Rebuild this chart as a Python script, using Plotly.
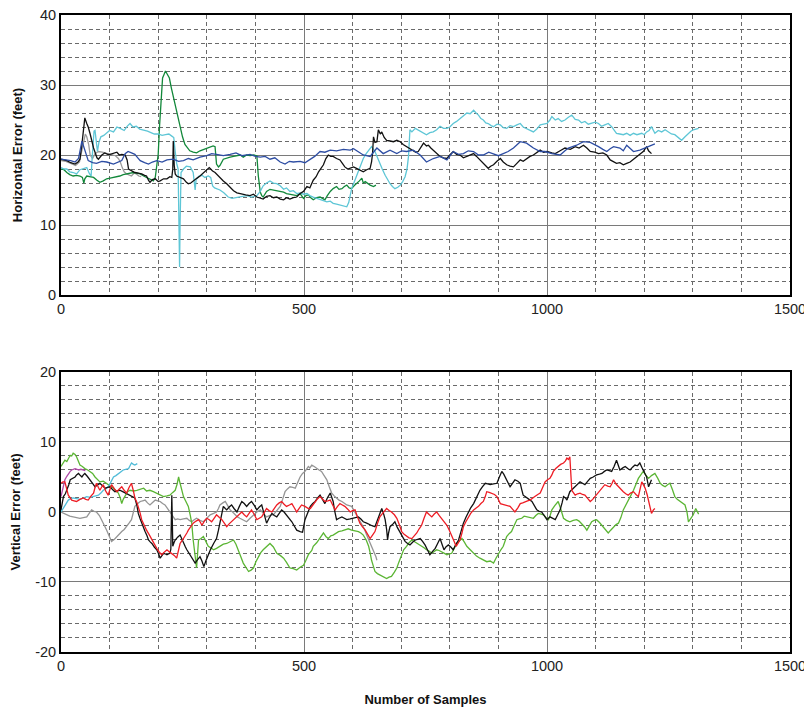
import plotly.graph_objects as go

# ---------------- Top panel: Horizontal Error (feet) ----------------
h_blue_x = [0,12,20,29,36,43,50,56,65,73,84,94,108,118,125,132,138,145,152,158,163,172,180,188,197,208,218,231,242,252,262,272,286,300,310,320,334,348,360,372,389,400,410,420,430,440,451,461,470,478,492,502,512,522,533,543,554,567,581,595,602,612,622,636,643,650,663,677,691,701,711,725,739,746,752,766,780,794,807,818,828,838,849,859,869,880,890,900,910,920,931,945,958,965,972,986,996,1010,1027,1037,1044,1061,1075,1089,1098,1106,1115,1123,1130,1137,1150,1157,1164,1171,1178,1191,1198,1205,1212,1222]
h_blue_y = [19.4,19.3,19.2,19.0,19.5,22.0,20.5,19.2,18.9,18.8,19.1,19.0,18.7,19.0,19.2,20.2,20.5,20.3,20.1,19.6,19.2,18.9,18.7,19.0,19.2,19.0,19.3,19.4,19.1,19.2,19.5,19.3,19.7,19.9,20.2,20.1,19.9,20.1,20.3,19.9,20.1,19.8,19.7,19.8,19.4,19.6,19.0,18.7,19.1,19.0,19.1,18.9,19.3,19.8,20.5,20.4,20.7,20.6,20.8,20.7,20.9,20.5,20.0,19.8,20.4,21.0,20.2,20.7,20.2,20.6,20.5,20.7,20.0,19.4,19.0,19.5,19.8,19.3,20.5,20.1,20.2,20.6,20.5,20.0,20.0,20.4,20.2,19.9,20.2,20.5,21.0,21.9,21.7,21.3,21.0,20.5,20.5,20.2,20.0,20.6,21.0,21.4,21.9,21.8,21.5,21.2,20.8,20.5,20.9,21.2,21.0,20.6,21.4,21.0,20.5,20.7,20.9,21.2,21.3,21.6]

h_black_x = [0,12,20,29,35,39,43,46,49,53,56,60,63,67,70,74,77,84,90,96,101,108,115,120,125,132,136,139,145,152,159,166,172,176,180,183,188,194,200,204,211,218,224,228,230,231,233,235,238,245,252,258,262,267,272,280,286,293,300,305,308,312,317,322,327,334,341,348,355,362,372,380,389,396,403,410,416,423,430,437,444,451,458,464,471,478,485,492,499,506,512,519,525,530,535,540,545,550,555,560,567,574,579,584,590,595,602,608,615,622,629,636,639,641,643,646,650,653,657,660,665,670,677,684,691,698,704,711,718,725,730,735,741,746,752,756,761,766,773,780,787,794,800,807,814,821,828,835,842,849,855,862,869,875,879,884,890,897,904,910,917,924,931,938,945,951,958,965,972,979,986,993,1000,1010,1017,1027,1037,1048,1058,1066,1075,1082,1089,1098,1106,1115,1123,1130,1137,1143,1150,1157,1164,1171,1178,1185,1192,1198,1205,1209,1215]
h_black_y = [19.4,19.2,18.9,18.7,19.0,19.4,21.5,23.5,25.3,24.5,24.0,23.0,22.0,21.0,20.4,19.6,19.4,20.0,20.3,20.1,20.1,20.3,20.4,20.0,20.1,20.0,19.3,18.0,17.8,17.5,17.4,17.3,17.1,17.0,16.4,16.1,16.5,16.6,16.2,16.3,16.6,16.6,16.9,16.8,18.0,22.0,18.5,17.3,17.0,16.8,16.6,16.1,15.9,16.0,16.3,16.7,17.0,17.4,17.8,18.2,18.0,17.7,17.5,17.1,16.8,16.3,15.9,15.4,14.9,14.6,14.4,14.3,14.2,14.4,14.0,13.8,13.7,14.1,14.2,13.9,14.0,13.7,13.6,13.9,13.7,13.9,14.0,14.5,14.8,15.5,15.3,16.4,16.9,17.6,18.2,18.6,19.5,20.0,19.8,19.8,19.5,19.3,18.8,18.3,18.0,18.1,18.3,18.1,17.8,17.6,17.9,18.1,19.0,20.2,22.6,21.8,21.9,23.6,23.0,23.3,22.5,22.1,22.0,21.9,22.1,21.9,21.5,21.2,21.0,20.7,20.4,20.5,21.2,21.7,21.3,21.4,21.0,20.7,20.2,19.8,19.6,19.5,20.0,20.5,20.1,20.0,19.6,19.8,20.1,20.2,19.8,19.3,18.8,18.3,18.1,18.4,18.6,19.1,19.5,19.0,18.6,18.4,18.3,18.8,19.3,19.1,19.5,19.8,20.0,20.4,20.7,20.4,20.5,20.3,20.2,20.6,21.0,20.8,21.2,21.0,21.4,21.0,20.5,20.4,20.2,20.3,20.0,19.3,19.0,18.8,18.9,18.6,18.8,19.0,19.4,19.8,20.1,20.5,21.2,20.6,20.2]

h_cyan_x = [0,6,12,18,25,32,39,46,53,58,62,64,66,68,70,73,75,78,82,88,94,100,108,115,122,130,136,142,148,155,162,170,178,185,192,200,208,215,222,228,232,235,238,241,243,244,245,247,252,258,266,272,276,278,284,290,296,303,308,312,316,322,327,335,344,352,361,370,382,392,403,410,416,423,430,437,444,451,458,464,471,478,485,492,499,506,512,519,526,533,540,547,554,560,567,574,581,588,592,595,598,602,607,612,617,622,628,633,639,646,651,656,661,667,672,677,682,687,693,698,703,708,712,715,718,722,729,736,742,747,752,759,766,773,780,787,794,800,807,814,821,828,835,842,849,854,859,864,869,874,879,885,890,897,904,910,917,924,931,938,945,951,958,965,972,979,986,993,1000,1006,1010,1017,1023,1030,1037,1044,1051,1058,1065,1071,1078,1085,1092,1099,1106,1112,1119,1126,1133,1138,1143,1150,1157,1164,1171,1178,1185,1195,1200,1205,1210,1215,1219,1222,1229,1236,1243,1250,1256,1263,1270,1277,1284,1291,1296,1301,1306,1312]
h_cyan_y = [18.2,18.0,18.0,17.6,17.5,17.3,17.9,18.0,18.2,17.4,17.0,19.5,22.0,23.4,23.5,21.5,20.5,21.8,22.6,22.8,23.2,23.5,23.3,24.0,23.8,23.5,24.1,24.5,24.0,24.1,23.7,23.6,23.4,23.2,23.0,23.0,22.8,22.9,23.0,22.7,22.5,20.5,18.8,18.0,10.0,4.0,10.0,17.5,18.0,18.4,18.3,17.5,15.0,16.5,17.0,17.1,16.8,17.0,16.8,15.6,15.3,15.1,15.0,14.6,14.0,13.8,13.9,14.1,14.2,14.0,14.2,14.8,15.6,16.0,16.3,16.0,15.9,15.6,15.1,15.3,14.8,14.9,14.5,14.6,14.4,14.5,14.2,14.0,13.8,13.6,13.5,13.3,13.4,13.1,13.0,12.9,12.8,12.6,13.2,14.5,15.2,15.9,16.8,17.6,18.6,19.5,20.2,20.7,21.2,20.5,19.6,18.8,18.0,17.1,16.4,15.9,15.5,15.2,15.4,15.7,16.2,16.9,18.0,19.8,23.6,23.3,23.8,23.5,23.3,23.0,22.9,23.2,23.3,23.6,24.1,23.8,23.8,24.0,24.5,24.8,25.2,25.6,26.0,25.9,26.4,26.0,25.7,25.2,25.0,24.6,24.5,24.2,24.05,24.4,24.3,23.9,23.8,24.2,24.05,24.3,24.5,24.0,23.8,23.6,23.3,23.7,24.3,24.4,24.5,25.0,25.5,25.0,25.2,24.8,25.0,25.4,25.7,25.1,25.0,24.6,24.8,24.4,24.5,24.7,24.5,24.1,24.3,24.5,24.05,23.5,23.1,23.0,22.9,23.1,22.8,23.1,22.9,23.1,22.9,23.3,23.5,24.05,23.6,23.1,23.5,23.3,23.6,23.3,23.0,22.9,22.5,22.1,22.6,23.1,23.4,23.6,23.7,23.8]

h_green_x = [0,6,12,18,25,32,39,44,47,49,53,60,67,74,80,87,94,101,108,115,121,128,135,142,149,156,163,170,176,183,190,194,197,200,203,206,209,212,215,219,223,227,231,236,241,245,250,255,260,265,272,279,286,293,300,307,313,317,320,324,327,334,341,348,355,362,369,375,382,389,396,403,406,410,413,416,423,430,437,444,451,458,464,471,478,485,492,499,504,509,514,519,526,533,538,543,548,554,560,567,572,578,583,588,593,598,603,608,614,619,622,626,631,636,643,648]
h_green_y = [18.0,17.9,17.5,17.2,17.0,17.1,17.0,16.8,16.0,16.6,17.0,16.9,16.8,16.4,16.1,16.3,16.6,16.7,16.8,16.9,17.0,17.2,17.3,17.4,17.5,17.4,17.3,17.0,16.8,16.5,16.3,16.8,18.2,20.1,24.4,28.5,31.0,31.5,32.0,31.5,31.0,29.6,28.3,26.8,25.2,23.8,22.6,21.5,21.0,20.6,20.4,20.3,20.6,20.8,21.0,21.1,21.3,21.2,18.7,18.3,18.5,19.4,19.6,19.7,19.8,19.9,20.0,19.7,20.0,19.9,20.0,19.9,17.0,14.7,14.2,14.0,14.8,15.1,15.0,14.9,14.7,14.7,14.5,14.4,14.3,14.2,14.5,13.8,14.2,14.3,13.9,13.6,13.9,14.0,13.8,13.6,14.2,14.8,15.2,15.5,15.1,15.2,15.5,15.7,15.3,15.2,15.6,15.9,16.3,16.7,16.0,16.2,15.9,15.7,15.5,15.7]

h_gray_x = [0,10,20,30,38,43,47,50,53,57,60,65,70,77,85,95,105,112,118,122,126,130,135,140,145,150,155,160,165]
h_gray_y = [19.2,19.1,18.8,18.5,19.0,20.5,22.0,23.0,22.6,21.5,20.0,19.5,20.2,20.5,20.4,20.2,20.0,19.9,19.5,19.0,18.2,17.6,17.3,17.1,17.0,17.4,17.3,17.0,16.9]

# ---------------- Bottom panel: Vertical Error (feet) ----------------
v_green_x = [0,4,8,12,16,19,22,25,29,32,36,39,44,49,55,60,65,70,75,80,87,94,101,108,113,118,122,125,128,132,137,142,149,156,163,170,176,183,190,197,204,211,218,224,230,235,239,242,245,249,252,257,262,266,269,272,276,279,281,283,288,293,298,303,308,314,320,327,334,341,348,355,360,365,370,375,380,386,391,396,401,406,411,416,423,430,437,444,451,458,464,471,478,485,492,499,504,509,516,519,526,533,537,540,545,550,555,560,566,571,578,584,591,598,605,612,617,622,628,633,636,639,643,646,651,656,663,670,675,680,686,691,695,698,702,705,711,716,722,727,732,737,742,747,752,758,763,768,773,778,783,789,794,799,804,809,814,820,825,830,835,842,849,855,862,869,876,883,890,895,900,905,910,914,917,922,927,932,938,943,948,953,958,965,972,977,982,988,993,998,1003,1006,1010,1016,1023,1028,1034,1040,1047,1054,1061,1066,1071,1077,1082,1087,1092,1097,1102,1108,1113,1120,1126,1131,1137,1142,1147,1152,1157,1162,1167,1172,1178,1183,1188,1193,1198,1203,1209,1215,1222,1228,1233,1238,1243,1248,1253,1258,1263,1268,1274,1279,1284,1288,1291,1296,1301,1306,1310,1312]
v_green_y = [6.5,7.0,7.4,7.2,7.8,8.1,8.0,8.4,8.2,7.9,7.2,6.7,6.5,6.2,6.0,5.8,5.5,5.0,4.7,4.3,4.4,4.1,3.8,3.4,3.0,2.7,2.0,1.2,1.8,2.4,2.9,3.1,3.0,3.1,3.3,3.4,3.0,3.1,2.9,2.7,2.4,2.2,2.3,2.4,2.8,3.1,4.0,5.0,4.1,3.0,2.2,1.5,0.8,-0.5,-1.6,-4.0,-6.0,-8.0,-6.0,-4.0,-3.8,-3.5,-4.2,-4.9,-5.1,-5.4,-5.2,-4.9,-4.6,-4.5,-4.2,-4.0,-4.6,-5.4,-6.4,-7.3,-7.9,-8.5,-8.3,-8.0,-7.1,-6.4,-5.8,-5.4,-5.0,-4.5,-5.0,-5.9,-6.2,-6.6,-7.2,-8.0,-8.1,-8.3,-7.9,-7.6,-6.9,-6.1,-5.5,-4.9,-4.4,-3.8,-3.3,-3.0,-3.5,-3.8,-3.4,-3.3,-3.0,-2.8,-2.7,-2.6,-2.4,-2.6,-2.7,-2.8,-3.0,-3.3,-4.0,-4.9,-5.8,-6.9,-7.8,-8.5,-8.8,-9.0,-9.3,-9.5,-9.3,-9.2,-8.6,-8.0,-7.2,-6.6,-6.0,-5.4,-4.9,-4.4,-4.0,-4.2,-4.5,-4.7,-4.9,-5.1,-5.4,-5.6,-5.9,-5.6,-5.4,-5.5,-5.7,-5.9,-6.1,-6.0,-5.9,-5.2,-4.5,-4.1,-3.8,-4.3,-4.9,-5.4,-5.9,-6.3,-6.6,-6.9,-7.1,-7.0,-7.3,-6.6,-5.9,-5.4,-4.9,-4.2,-3.5,-3.1,-2.8,-2.0,-1.1,-1.0,-0.9,-0.6,-0.7,-0.8,-0.9,-0.5,-0.2,-0.3,-0.4,-0.8,-1.1,-0.6,0.3,0.9,1.5,0.5,-0.9,-1.2,-1.4,-1.2,-1.1,-1.3,-1.6,-2.1,-2.6,-2.0,-1.4,-1.2,-1.1,-1.5,-1.9,-2.5,-3.0,-2.6,-2.1,-1.8,-1.6,-0.8,0.3,0.9,1.5,2.3,3.1,4.0,4.8,5.3,5.8,5.3,4.8,5.2,5.5,4.8,4.1,3.8,3.6,3.9,4.1,3.2,2.2,1.8,1.5,1.3,1.0,0.0,-1.4,-0.9,-0.4,0.5,0.0,-0.3]

v_black_x = [0,3,5,9,12,16,19,24,29,32,36,40,43,46,49,54,60,65,70,75,80,86,91,96,101,106,111,116,121,127,132,137,142,147,152,156,159,163,166,170,173,177,180,184,187,192,197,201,204,208,211,215,218,221,224,226,227,228,229,230,233,235,240,245,249,252,256,259,264,269,273,276,281,286,290,294,298,303,308,314,317,320,324,327,331,334,338,341,346,351,356,362,367,372,377,382,387,392,398,403,408,413,418,423,428,434,439,444,449,454,459,464,469,475,480,485,492,497,502,508,513,518,523,528,533,538,543,548,554,557,560,563,567,572,578,583,588,595,602,607,612,617,622,629,636,641,646,650,653,657,660,664,667,670,672,674,677,682,687,692,698,703,708,713,718,724,729,734,739,744,749,754,759,765,770,775,780,784,788,792,797,802,807,812,818,823,828,833,838,843,849,855,862,867,873,878,883,890,897,902,907,911,914,919,924,929,934,940,945,948,951,955,958,963,969,974,979,984,989,994,1000,1006,1012,1017,1022,1027,1031,1034,1038,1041,1047,1053,1058,1063,1068,1073,1078,1084,1089,1095,1102,1108,1113,1118,1123,1128,1133,1138,1143,1147,1150,1156,1161,1166,1171,1176,1181,1186,1191,1195,1198,1202,1205,1209,1212,1215]
v_black_y = [0.3,1.2,2.2,2.6,3.1,3.9,4.6,4.8,5.0,5.3,5.5,5.2,5.0,5.3,5.5,5.1,4.6,4.1,3.6,3.9,4.1,3.7,3.4,3.5,3.6,3.2,2.9,3.0,3.1,2.9,2.7,2.5,2.4,2.2,2.0,1.0,-0.2,-1.0,-1.6,-2.3,-2.8,-3.4,-4.0,-4.3,-4.5,-5.0,-5.4,-6.0,-6.6,-6.2,-5.9,-6.0,-6.1,-6.0,-5.9,-5.3,-1.0,2.4,-1.0,-4.9,-4.3,-4.0,-3.6,-3.3,-3.9,-4.5,-5.0,-5.4,-6.0,-6.6,-7.0,-7.3,-6.8,-6.4,-7.0,-7.8,-7.0,-6.1,-5.3,-4.5,-4.1,-3.8,-2.6,-1.4,-0.3,0.8,0.5,0.3,0.7,1.0,0.5,0.0,0.8,1.5,1.2,0.8,1.2,1.5,0.9,0.3,0.7,1.0,-0.3,-1.6,-0.9,-0.2,-0.5,-0.7,-0.2,0.3,0.0,-0.4,-0.9,-1.4,-2.0,-2.6,-2.8,-2.9,-1.1,0.0,0.8,1.2,1.5,2.0,2.4,1.8,1.2,2.0,2.7,2.1,1.5,0.2,-1.1,-0.9,-0.7,-0.9,-1.1,-1.0,-0.9,-0.8,-0.7,-1.0,-1.4,-1.6,-1.9,-2.0,-2.1,-1.4,-0.7,0.0,0.5,-0.3,-1.1,-2.5,-4.0,-3.0,-2.1,-1.8,-1.4,-2.2,-3.0,-3.6,-4.2,-4.5,-4.7,-4.3,-4.0,-3.9,-3.8,-4.2,-4.7,-5.4,-6.1,-5.6,-5.2,-4.5,-3.8,-4.6,-5.4,-5.0,-4.7,-5.0,-5.4,-4.7,-4.0,-2.8,-1.6,-0.8,0.0,0.6,1.2,2.1,3.1,3.6,4.1,4.0,3.9,4.0,4.1,5.0,5.8,5.4,5.0,4.3,3.6,4.1,4.6,4.4,4.1,3.2,2.4,2.2,2.0,1.8,1.5,0.9,0.3,0.1,0.0,-0.5,-1.1,-0.7,-0.9,-1.1,-0.4,0.3,1.3,2.2,2.0,1.7,2.9,3.3,3.6,4.0,4.3,4.1,3.9,4.4,4.8,5.0,5.3,5.4,5.5,5.8,6.0,5.9,5.8,6.5,7.4,6.6,6.0,6.3,6.5,6.2,6.0,6.4,6.7,6.6,7.0,6.4,6.0,5.5,5.0,3.6,4.2,4.6]

v_red_x = [0,4,8,12,15,19,22,27,32,39,46,51,56,62,67,70,73,77,80,84,87,92,97,101,104,110,115,120,125,130,135,140,145,149,152,156,159,163,166,171,176,182,187,192,197,202,207,213,218,223,228,233,238,241,245,250,255,259,262,267,272,278,283,287,290,295,300,305,310,315,320,326,331,336,341,346,351,356,362,367,372,377,382,387,392,398,403,408,413,418,423,428,434,439,444,449,454,459,464,470,475,480,485,490,495,502,509,513,518,523,528,533,538,543,549,554,559,564,569,574,579,584,590,595,600,605,610,615,620,626,631,636,641,646,651,656,663,670,675,680,686,691,696,701,706,711,716,722,727,732,737,742,747,752,758,763,768,773,778,783,789,794,799,804,809,813,817,821,825,828,833,838,843,849,854,859,864,869,873,876,881,886,892,897,901,904,909,914,919,924,929,934,940,945,950,955,960,965,970,975,981,986,991,996,1001,1006,1010,1013,1018,1023,1028,1034,1038,1041,1044,1047,1049,1051,1055,1058,1063,1068,1073,1078,1084,1089,1094,1099,1104,1109,1114,1119,1125,1130,1134,1137,1142,1147,1152,1157,1162,1167,1172,1178,1183,1188,1192,1195,1199,1202,1206,1209,1212,1215,1219,1222]
v_red_y = [4.1,4.3,4.3,3.2,2.4,2.0,1.7,1.6,1.5,1.8,2.0,1.8,1.7,2.3,2.7,3.5,4.1,3.5,3.1,3.6,3.9,3.0,2.4,3.3,3.9,3.3,2.9,3.3,3.6,3.1,2.7,3.5,4.1,3.0,2.0,1.4,0.8,-0.2,-1.1,-1.9,-2.6,-3.3,-4.0,-4.6,-5.2,-5.7,-6.1,-5.7,-5.4,-5.7,-5.9,-6.2,-6.6,-5.5,-4.5,-4.0,-3.5,-3.0,-2.6,-2.1,-1.6,-1.3,-1.1,-1.5,-1.9,-1.3,-0.9,-1.1,-1.4,-0.9,-0.4,-0.8,-1.1,-1.6,-2.1,-1.7,-1.4,-1.0,-0.7,-0.3,0.0,-0.4,-0.7,-0.2,0.3,-0.4,-1.1,-0.9,-0.7,-0.1,0.5,0.2,0.0,0.5,1.0,1.3,1.5,1.1,0.8,1.0,1.2,0.6,0.0,0.5,1.0,0.8,0.5,0.5,1.0,1.5,1.9,2.2,1.8,1.5,1.6,1.7,1.0,0.3,0.8,1.2,1.0,0.8,0.4,0.0,0.2,0.3,-0.7,-1.6,-2.1,-2.6,-3.2,-3.8,-3.3,-2.8,-1.7,-0.7,-0.1,0.5,0.2,0.0,-0.4,-0.9,-1.8,-2.8,-3.2,-3.5,-3.7,-3.8,-3.4,-3.0,-2.4,-1.9,-0.9,0.0,-0.4,-0.7,-0.3,0.0,-0.5,-0.9,-1.4,-1.9,-2.6,-3.3,-4.2,-4.9,-4.5,-4.0,-3.0,-2.1,-1.4,-0.7,-0.2,0.3,0.5,0.8,1.2,1.5,2.2,2.9,2.8,2.7,2.5,2.2,1.7,1.2,1.1,1.0,0.9,0.8,0.4,0.0,0.6,1.2,1.3,1.5,1.6,1.7,2.0,2.2,2.5,2.7,3.5,4.3,4.6,4.8,5.3,5.8,6.2,6.5,6.8,7.0,7.3,7.7,7.5,7.9,5.5,3.1,2.7,2.4,2.6,2.7,2.5,2.4,1.9,1.5,1.8,2.2,2.7,3.1,3.5,3.9,3.7,3.6,4.1,4.6,4.0,3.6,3.2,2.9,2.6,2.4,2.7,2.9,2.5,2.2,3.4,4.3,3.8,3.4,2.5,1.7,0.8,-0.2,0.3,0.5]

v_gray_x = [0,6,12,18,25,32,39,46,53,58,63,68,73,79,84,89,94,99,104,110,115,120,125,130,135,140,145,149,152,158,163,168,173,178,183,189,194,199,204,209,214,219,224,230,235,240,245,252,259,264,269,274,279,286,293,300,307,314,320,324,327,333,338,343,348,353,358,363,368,375,382,389,396,403,410,416,423,430,437,444,451,456,461,466,471,477,482,487,492,497,502,506,509,512,516,521,526,531,536,541,547,552,557,562,567,572,578,583,588,593,598,603,608,613,619,624,629,634,639,643,646,648,650]
v_gray_y = [0.0,-0.2,-0.4,-0.6,-0.7,-0.8,-0.9,-0.8,-0.7,-0.2,0.3,0.1,0.0,-0.5,-1.1,-1.9,-2.6,-3.4,-4.2,-3.9,-3.5,-3.1,-2.8,-2.5,-2.1,-1.6,-1.1,-0.1,0.8,1.2,1.5,1.6,1.7,1.3,1.0,1.4,1.7,1.6,1.5,1.2,1.0,0.5,0.0,-0.6,-1.1,-1.0,-1.1,-1.0,-0.9,-1.2,-1.4,-1.1,-0.9,-1.2,-1.4,-0.9,-0.4,-0.2,0.0,0.5,1.0,1.3,1.5,0.9,0.3,0.0,-0.4,-0.7,-0.9,-1.2,-1.4,-0.9,-0.4,0.0,0.3,-0.2,-0.7,-0.5,-0.4,0.2,0.8,1.8,2.9,3.3,3.6,3.5,3.4,4.2,5.0,5.5,5.8,6.2,6.5,6.3,6.7,6.5,6.2,6.0,5.8,5.2,4.6,3.6,2.7,2.3,2.0,1.7,1.5,1.2,1.0,0.9,0.8,0.2,-0.4,-1.0,-1.6,-2.4,-3.3,-4.1,-4.9,-5.4,-5.9,-6.4,-6.9]

v_cyan_x = [0,4,8,12,15,20,25,32,39,46,53,60,67,72,77,82,87,92,97,102,108,113,118,123,128,133,139,142,145,149,152,157]
v_cyan_y = [0.0,0.5,1.0,1.4,1.7,1.9,2.0,1.9,1.8,2.0,2.2,2.1,2.2,2.3,2.4,2.7,3.1,3.3,3.6,4.2,5.0,5.2,5.5,5.8,6.0,6.1,6.2,6.6,7.0,6.8,6.7,6.9]

v_purple_x = [0,4,8,12,15,19,22,26,29,33,36,41,46,50]
v_purple_y = [2.2,3.4,4.6,5.1,5.5,5.8,6.0,6.1,6.2,6.1,6.0,6.1,6.0,5.9]

x_ticks = [0, 500, 1000, 1500]
h_ticks = [0, 10, 20, 30, 40]
v_ticks = [-20, -10, 0, 10, 20]

fig = go.Figure()

def add(x, y, color, row_axis):
    fig.add_trace(go.Scatter(x=x, y=y, mode="lines",
                             line=dict(color=color, width=1.3),
                             xaxis="x" if row_axis == 1 else "x2",
                             yaxis="y" if row_axis == 1 else "y2",
                             showlegend=False, hoverinfo="skip"))

# top panel (draw order: back to front)
add(h_gray_x, h_gray_y, "#9a9a9a", 1)
add(h_green_x, h_green_y, "#12883a", 1)
add(h_cyan_x, h_cyan_y, "#5ec6d6", 1)
add(h_black_x, h_black_y, "#111111", 1)
add(h_blue_x, h_blue_y, "#2d4da3", 1)

# bottom panel
add(v_gray_x, v_gray_y, "#959595", 2)
add(v_green_x, v_green_y, "#5bb534", 2)
add(v_cyan_x, v_cyan_y, "#52bcd8", 2)
add(v_purple_x, v_purple_y, "#b04aa8", 2)
add(v_black_x, v_black_y, "#111111", 2)
add(v_red_x, v_red_y, "#ee1c24", 2)

tick_font = dict(family="Liberation Sans, Arial, sans-serif", size=14.5, color="#222222")
title_font = dict(family="Liberation Sans, Arial, sans-serif", size=13, color="#111111")

def xax(domain_anchor, show_title):
    d = dict(range=[0, 1500], tickvals=x_ticks, ticktext=[str(v) for v in x_ticks],
             showgrid=True, gridcolor="#7a7a7a", gridwidth=1.2,
             minor=dict(dtick=100, tick0=0, showgrid=True, gridcolor="#6a6a6a",
                        griddash="4px,3px", gridwidth=1),
             showline=True, linecolor="#000000", linewidth=2, mirror=True,
             ticks="", tickfont=tick_font, zeroline=False, anchor=domain_anchor,
             automargin=False, ticklabeloverflow="allow")
    if show_title:
        d["title"] = dict(text="<b>Number of Samples</b>", font=title_font, standoff=21)
    return d

def yax(rng, ticks, domain, title):
    return dict(range=rng, tickvals=ticks, ticktext=[str(v) for v in ticks], domain=domain,
                showgrid=True, gridcolor="#7a7a7a", gridwidth=1.2,
                minor=dict(dtick=2, tick0=0, showgrid=True, gridcolor="#6a6a6a",
                           griddash="4px,3px", gridwidth=1),
                showline=True, linecolor="#000000", linewidth=2, mirror=True,
                ticks="", tickfont=tick_font, zeroline=False, automargin=False,
                ticklabeloverflow="allow",
                title=dict(text="<b>" + title + "</b>", font=title_font, standoff=14))

# the page body adds an 8px offset, so the figure is sized to fit the window
fig.update_layout(
    width=804, height=705,
    margin=dict(l=53, r=22, t=7, b=61, autoexpand=False),
    paper_bgcolor="white", plot_bgcolor="white",
    xaxis=xax("y", False),
    xaxis2=xax("y2", True),
    yaxis=dict(yax([0, 40], h_ticks, [0.5604, 1.0], "Horizontal Error (feet)"), anchor="x"),
    yaxis2=dict(yax([-20, 20], v_ticks, [0.0, 0.4396], "Vertical Error (feet)"), anchor="x2"),
    showlegend=False,
)

fig.write_html("out.html")
